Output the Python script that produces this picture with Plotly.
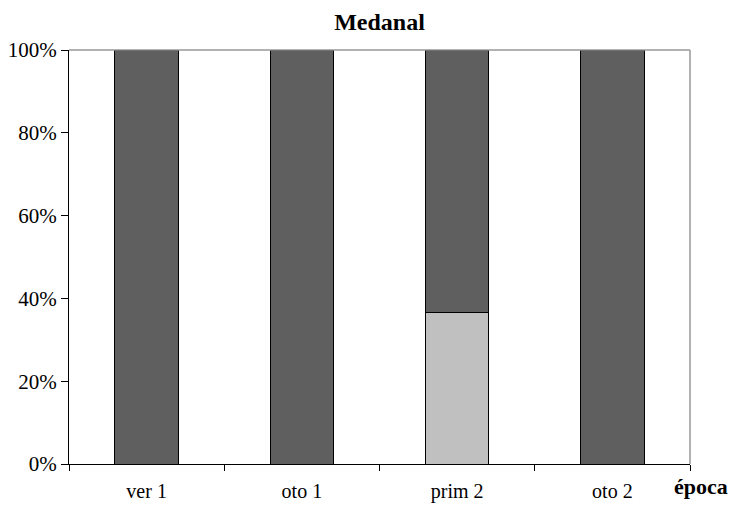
import plotly.graph_objects as go

categories = ["ver 1", "oto 1", "prim 2", "oto 2"]
light_vals = [0, 0, 36.7, 0]
dark_vals = [100, 100, 63.3, 100]
y_ticks = [0, 20, 40, 60, 80, 100]
y_labels = ["0%", "20%", "40%", "60%", "80%", "100%"]

font_fam = "Liberation Serif, Times New Roman, serif"

fig = go.Figure()
fig.add_trace(go.Bar(x=categories, y=light_vals, marker=dict(color="#C0C0C0", line=dict(color="black", width=1)), showlegend=False))
fig.add_trace(go.Bar(x=categories, y=dark_vals, marker=dict(color="#5F5F5F", line=dict(color="black", width=1)), showlegend=False))

fig.update_layout(
    barmode="stack",
    bargap=0.59,
    width=731, height=508,
    margin=dict(l=69, r=41, t=50, b=44, autoexpand=False),
    plot_bgcolor="white", paper_bgcolor="white",
    font=dict(family=font_fam, color="black", size=20),
    title=dict(text="<b>Medanal</b>", xref="paper", x=0.5, xanchor="center", y=0.958, yanchor="middle", font=dict(size=24)),
    shapes=[
        dict(type="line", xref="paper", yref="paper", x0=0, x1=1, y0=1, y1=1, line=dict(color="#999999", width=1.5)),
        dict(type="line", xref="paper", yref="paper", x0=1, x1=1, y0=0, y1=1, line=dict(color="#999999", width=1.5)),
    ],
    annotations=[dict(text="<b>época</b>", xref="paper", yref="paper", x=0.971, y=-0.055, xanchor="left", yanchor="middle", showarrow=False, font=dict(size=22))],
)
fig.update_yaxes(range=[0, 100], tickvals=y_ticks, ticktext=y_labels, showgrid=False, showline=True, linecolor="black", linewidth=1, ticks="outside", ticklen=7, tickcolor="black", tickfont=dict(size=21), zeroline=False)
fig.update_xaxes(showgrid=False, showline=True, linecolor="black", linewidth=1, ticks="outside", tickson="boundaries", ticklen=6, tickcolor="black", tickfont=dict(size=20), ticklabelstandoff=9)

fig.write_html("out.html", config={"displayModeBar": False}, post_script="document.body.style.margin='0';")
